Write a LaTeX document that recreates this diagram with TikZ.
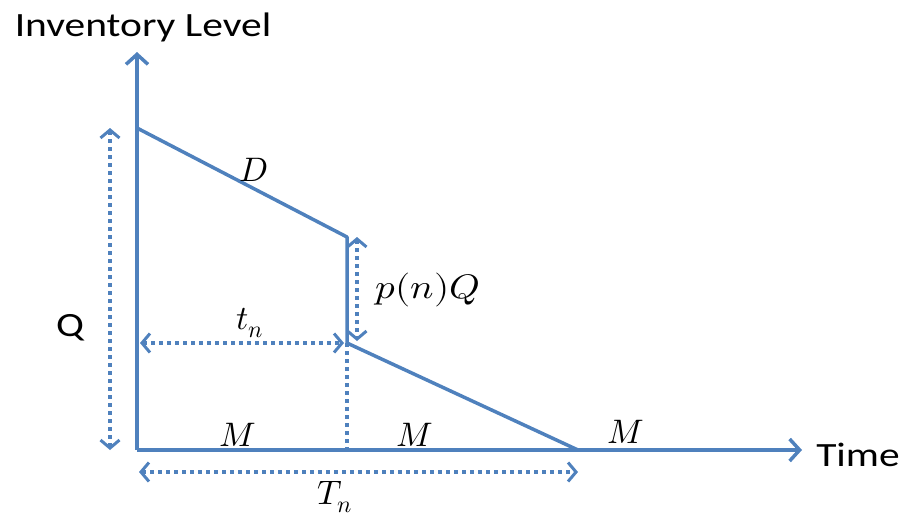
\documentclass[tikz,border=0pt]{standalone}
\usepackage{fontspec}
\setmainfont{Carlito}
\usepackage{unicode-math}
\setmathfont{Latin Modern Math}
\usetikzlibrary{arrows.meta}
\definecolor{ob}{HTML}{4F81BD}
\begin{document}
\begin{tikzpicture}[x=1pt,y=-1pt,
  axis/.style={draw=ob,line width=4pt,-{Straight Barb[length=10pt,width=22pt,line width=3.5pt]}},
  seg/.style={draw=ob,line width=3.5pt},
  dotarr/.style={draw=ob,line width=3.5pt,dash pattern=on 3.5pt off 4.5pt,{Straight Barb[length=8pt,width=19pt,line width=3pt]}-{Straight Barb[length=8pt,width=19pt,line width=3pt]}},
  dotline/.style={draw=ob,line width=3.5pt,dash pattern=on 3.5pt off 4.5pt},
  txt/.style={inner sep=0pt,xscale=1.22,font=\fontsize{34}{40}\selectfont},
  mth/.style={inner sep=0pt,font=\fontsize{34}{40}\selectfont}]
\useasboundingbox (0,0) rectangle (907,517);
\coordinate (O) at (137,450);
\coordinate (Ytop) at (137,52);
\coordinate (Xend) at (802,450);
\coordinate (A) at (137,128);
\coordinate (B) at (347,237);
\coordinate (C) at (347,343);
\coordinate (E) at (578,450);
\coordinate (Qt) at (110,128);
\coordinate (Qb) at (110,450);
\coordinate (Pt) at (357,237);
\coordinate (Pb) at (357,341);
\coordinate (Tl) at (140,343);
\coordinate (Tr) at (344,343);
\coordinate (Cb) at (347,450);
\coordinate (Nl) at (139,472);
\coordinate (Nr) at (578,472);
\draw[axis] (O) -- (Ytop);
\draw[axis] (O) -- (Xend);
\draw[seg,line join=round] (A) -- (B) -- (C) -- (E);
\draw[dotarr] (Qt) -- (Qb);
\draw[dotarr] (Pt) -- (Pb);
\draw[dotarr] (Tl) -- (Tr);
\draw[dotline] (C) -- (Cb);
\draw[dotarr] (Nl) -- (Nr);
\node[txt] (inv) at (143,27) {Inventory Level};
\node[txt] (time) at (858,455) {Time};
\node[txt] (q) at (70,328) {Q};
\node[mth] (d) at (254,170) {$D$};
\node[mth,xscale=1.15] (pnq) at (428,290) {$p(n)Q$};
\node[mth] (tn) at (250,323) {$t_n$};
\node[mth] (m1) at (238,435) {$M$};
\node[mth] (m2) at (415,435) {$M$};
\node[mth] (m3) at (626,432) {$M$};
\node[mth] (Tn) at (335,497) {$T_n$};
\end{tikzpicture}
\end{document}
